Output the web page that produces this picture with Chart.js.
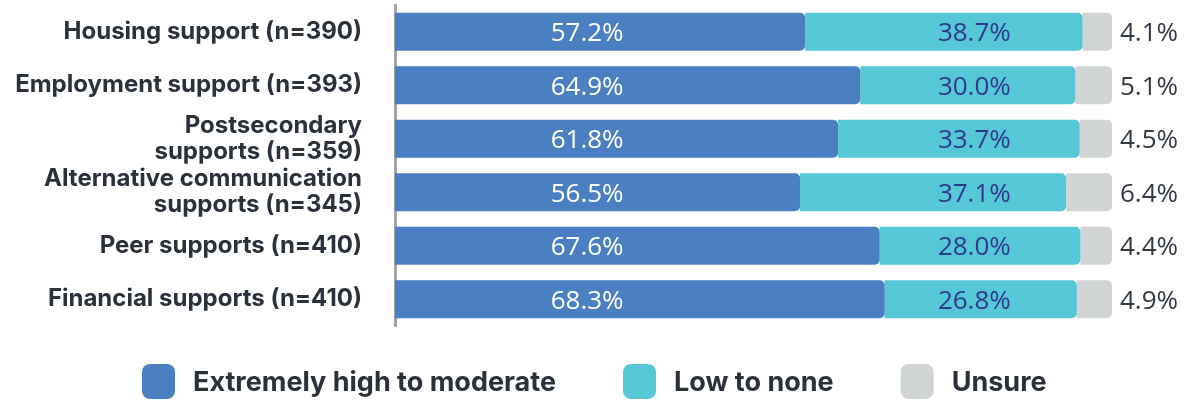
<!DOCTYPE html>
<html>
<head>
<meta charset="utf-8">
<script src="https://cdn.jsdelivr.net/npm/chart.js@4.4.1/dist/chart.umd.min.js"></script>
<style>
  html, body { margin: 0; padding: 0; background: #ffffff; }
  #wrap { width: 1188px; height: 400px; position: relative; }
</style>
</head>
<body>
<div id="wrap"><canvas id="c" width="1188" height="400"></canvas></div>
<script>
const categories = [
  "Housing support (n=390)",
  "Employment support (n=393)",
  ["Postsecondary", "supports (n=359)"],
  ["Alternative communication", "supports (n=345)"],
  "Peer supports (n=410)",
  "Financial supports (n=410)"
];
const seriesNames = ["Extremely high to moderate", "Low to none", "Unsure"];
const highModerate = [57.2, 64.9, 61.8, 56.5, 67.6, 68.3];
const lowNone = [38.7, 30.0, 33.7, 37.1, 28.0, 26.8];
const unsure = [4.1, 5.1, 4.5, 6.4, 4.4, 4.9];

const colors = ["#4a7fc1", "#56c7d6", "#d1d4d5"];
const labelColors = ["#ffffff", "#2d3a8c", "#333a44"];

const valueLabels = {
  id: "valueLabels",
  afterDatasetsDraw(chart) {
    const ctx = chart.ctx;
    const xs = chart.scales.x;
    // label columns (fixed positions along the value axis, as in the original)
    const columns = [xs.getPixelForValue(26.8), xs.getPixelForValue(80.8)];
    ctx.save();
    ctx.font = "400 26px 'Open Sans'";
    ctx.textBaseline = "middle";
    chart.data.datasets.forEach((ds, di) => {
      const meta = chart.getDatasetMeta(di);
      meta.data.forEach((bar, i) => {
        const v = ds.data[i];
        const txt = v.toFixed(1) + "%";
        ctx.fillStyle = labelColors[di];
        if (di === 2) {
          ctx.textAlign = "left";
          ctx.fillText(txt, chart.chartArea.right + 8, bar.y + 2);
        } else {
          ctx.textAlign = "center";
          ctx.fillText(txt, columns[di], bar.y + 2);
        }
      });
    });
    ctx.restore();
  }
};

const customLegend = {
  id: "customLegend",
  afterDraw(chart) {
    const ctx = chart.ctx;
    ctx.save();
    ctx.font = "700 27px Inter";
    ctx.textBaseline = "middle";
    ctx.textAlign = "left";
    const boxW = 33, boxH = 35, gap = 18, itemGap = 67, y = 364;
    const widths = chart.data.datasets.map(d => boxW + gap + ctx.measureText(d.label).width);
    let x = 142;
    chart.data.datasets.forEach((d, i) => {
      ctx.fillStyle = d.backgroundColor;
      ctx.beginPath();
      ctx.roundRect(x, y, boxW, boxH, 8);
      ctx.fill();
      ctx.fillStyle = "#2a313b";
      ctx.fillText(d.label, x + boxW + gap, y + boxH / 2 + 1);
      x += widths[i] + itemGap;
    });
    ctx.restore();
  }
};

const seriesData = [highModerate, lowNone, unsure];

new Chart(document.getElementById("c"), {
  type: "bar",
  data: {
    labels: categories,
    datasets: seriesData.map((arr, i) => ({
      label: seriesNames[i],
      data: arr,
      backgroundColor: colors[i],
      borderRadius: { topLeft: 0, bottomLeft: 0, topRight: 5, bottomRight: 5 },
      borderSkipped: false,
      barPercentage: 0.71,
      categoryPercentage: 1.0
    }))
  },
  options: {
    indexAxis: "y",
    responsive: false,
    animation: false,
    devicePixelRatio: 1,
    layout: { padding: { left: 0, right: 76, top: 5, bottom: 74 } },
    plugins: {
      legend: { display: false },
      tooltip: { enabled: false }
    },
    scales: {
      x: {
        stacked: true,
        min: 0,
        max: 100,
        display: false
      },
      y: {
        stacked: true,
        grid: { display: false, drawTicks: false },
        border: { display: true, color: "#a3a3a3", width: 3 },
        ticks: {
          autoSkip: false,
          padding: 33,
          color: "#2a313b",
          font: { family: "Inter", weight: "700", size: 24, lineHeight: "26px" }
        },
        afterFit(scale) {
          scale.width = 395;
          scale.paddingTop = 0;
          scale.paddingBottom = 0;
        }
      }
    }
  },
  plugins: [valueLabels, customLegend]
});
</script>
</body>
</html>
